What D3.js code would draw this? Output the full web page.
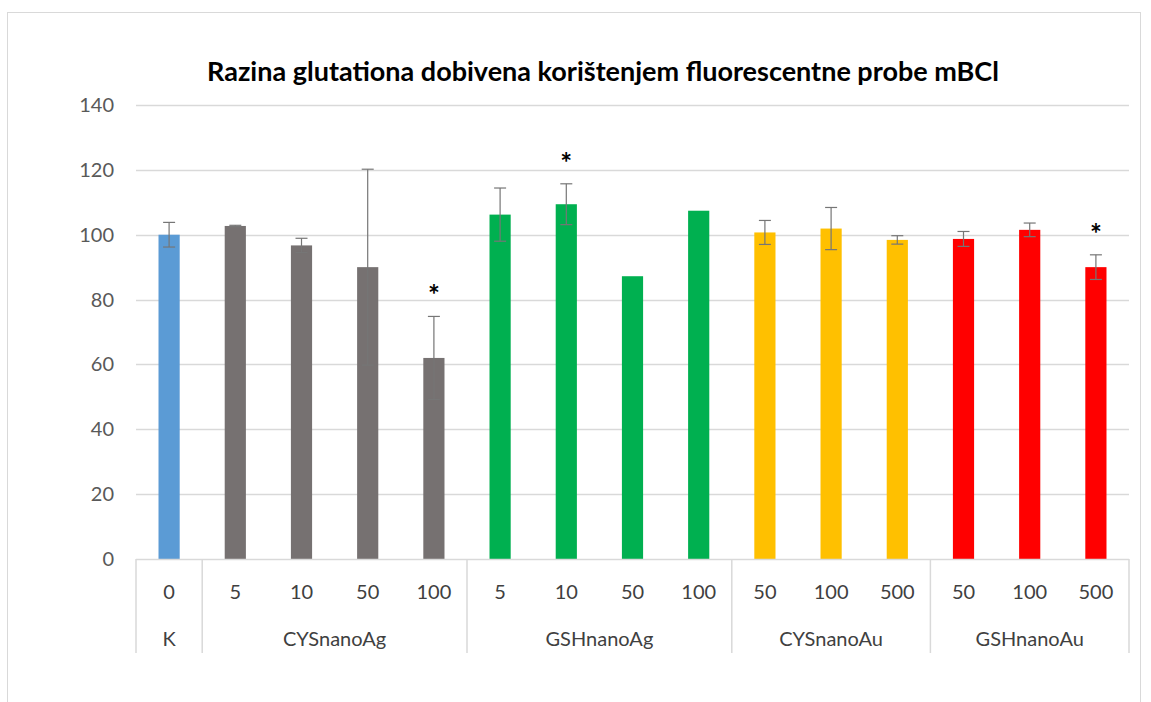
<!DOCTYPE html>
<html>
<head>
<meta charset="utf-8">
<script src="https://cdn.jsdelivr.net/npm/d3@7"></script>
<style>
  body { margin: 0; background: #fff; }
  svg { font-family: Lato, "Open Sans", sans-serif; }
</style>
</head>
<body>
<svg id="chart" width="1151" height="702"></svg>
<script>
// ========= Data
const groups = ["K", "CYSnanoAg", "GSHnanoAg", "CYSnanoAu", "GSHnanoAu"];
const groupColors = ["#5B9BD5", "#767171", "#00B050", "#FFC000", "#FF0000"];
const barGroup = [0, 1, 1, 1, 1, 2, 2, 2, 2, 3, 3, 3, 4, 4, 4];
const doses = ["0", "5", "10", "50", "100", "5", "10", "50", "100", "50", "100", "500", "50", "100", "500"];
const values = [100, 102.7, 96.7, 90, 62, 106.2, 109.4, 87.2, 107.4, 100.7, 101.9, 98.4, 98.7, 101.5, 90];
const errors = [3.8, 0.2, 2.2, 30.2, 12.8, 8.2, 6.3, null, null, 3.7, 6.5, 1.3, 2.3, 2.1, 3.8];
const stars = [false, false, false, false, true, false, true, false, false, false, false, false, false, false, true];
const yTicks = [0, 20, 40, 60, 80, 100, 120, 140];
const title = "Razina glutationa dobivena korištenjem fluorescentne probe mBCl";

// ========= Layout
const svg = d3.select("#chart");
const m = { l: 136, r: 1129, t: 105, b: 559 };

svg.append("rect")
    .attr("x", 7.5).attr("y", 12.5)
    .attr("width", 1133).attr("height", 700)
    .attr("fill", "#fff").attr("stroke", "#d9d9d9").attr("stroke-width", 1);

const idx = d3.range(values.length);
const x = d3.scaleBand().domain(idx).range([m.l, m.r]).paddingInner(0).paddingOuter(0);
const y = d3.scaleLinear().domain([0, 140]).range([m.b, m.t]);
const barW = x.bandwidth() * 0.32;

// title
svg.append("text")
    .attr("x", 603).attr("y", 81)
    .attr("text-anchor", "middle")
    .attr("font-size", 27).attr("font-weight", "bold")
    .attr("fill", "#000")
    .text(title);

// gridlines
svg.append("g").selectAll("line")
    .data(yTicks.filter(d => d > 0))
    .join("line")
    .attr("x1", m.l).attr("x2", m.r)
    .attr("y1", d => Math.round(y(d)) + 0.5).attr("y2", d => Math.round(y(d)) + 0.5)
    .attr("stroke", "#d9d9d9").attr("stroke-width", 1.5);

// y labels
svg.append("g").selectAll("text")
    .data(yTicks)
    .join("text")
    .attr("x", 114).attr("y", d => y(d) + 7)
    .attr("text-anchor", "end")
    .attr("font-size", 20).attr("fill", "#595959")
    .text(d => d);

// bars
svg.append("g").selectAll("rect")
    .data(idx)
    .join("rect")
    .attr("x", i => x(i) + (x.bandwidth() - barW) / 2)
    .attr("y", i => y(values[i]))
    .attr("width", barW)
    .attr("height", i => y(0) - y(values[i]))
    .attr("fill", i => groupColors[barGroup[i]]);

// error bars
const eb = svg.append("g").attr("stroke", "#767676").attr("stroke-width", 1.2);
idx.filter(i => errors[i] != null).forEach(i => {
    const cx = x(i) + x.bandwidth() / 2;
    const hi = y(values[i] + errors[i]), lo = y(values[i] - errors[i]);
    eb.append("line").attr("x1", cx).attr("x2", cx).attr("y1", hi).attr("y2", lo);
    eb.append("line").attr("x1", cx - 6).attr("x2", cx + 6).attr("y1", hi).attr("y2", hi);
    eb.append("line").attr("x1", cx - 6).attr("x2", cx + 6).attr("y1", lo).attr("y2", lo);
});

// significance stars
svg.append("g").selectAll("text")
    .data(idx.filter(i => stars[i]))
    .join("text")
    .attr("x", i => x(i) + x.bandwidth() / 2)
    .attr("y", i => y(values[i] + (errors[i] || 0)) - 11)
    .attr("text-anchor", "middle")
    .attr("font-size", 28).attr("font-weight", "bold")
    .attr("fill", "#000")
    .text("*");

// x axis line
svg.append("line")
    .attr("x1", m.l).attr("x2", m.r)
    .attr("y1", m.b + 0.5).attr("y2", m.b + 0.5)
    .attr("stroke", "#d9d9d9").attr("stroke-width", 1.5);

// group dividers
const groupStart = groups.map((g, gi) => barGroup.indexOf(gi));
const groupEnd = groups.map((g, gi) => barGroup.lastIndexOf(gi));
const dividers = groupStart.map(s => x(s)).concat([m.r]);
svg.append("g").selectAll("line")
    .data(dividers)
    .join("line")
    .attr("x1", d => d).attr("x2", d => d)
    .attr("y1", m.b).attr("y2", 653)
    .attr("stroke", "#d9d9d9").attr("stroke-width", 1.5);

// dose labels
svg.append("g").selectAll("text")
    .data(idx)
    .join("text")
    .attr("x", i => x(i) + x.bandwidth() / 2)
    .attr("y", 599)
    .attr("text-anchor", "middle")
    .attr("font-size", 20).attr("fill", "#404040")
    .text(i => doses[i]);

// group labels
svg.append("g").selectAll("text")
    .data(groups)
    .join("text")
    .attr("x", (g, gi) => (x(groupStart[gi]) + x(groupEnd[gi]) + x.bandwidth()) / 2)
    .attr("y", 646)
    .attr("text-anchor", "middle")
    .attr("font-size", 20).attr("fill", "#404040")
    .text(g => g);
</script>
</body>
</html>
